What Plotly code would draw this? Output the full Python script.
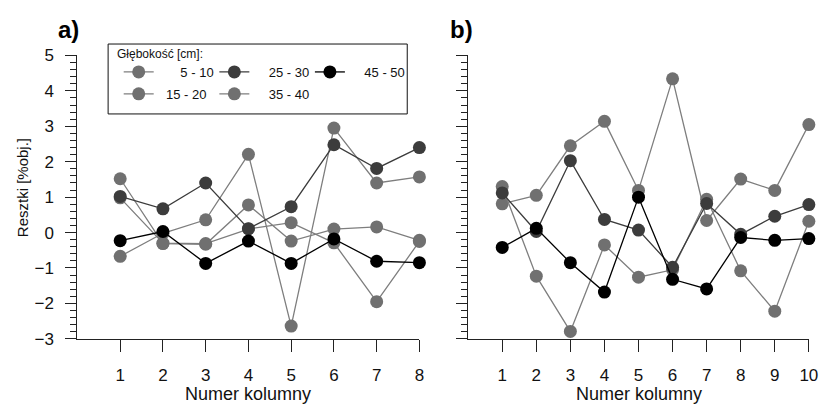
import plotly.graph_objects as go

# ---- data: residuals per soil column, by sampling depth ----
depths = ["5 - 10", "15 - 20", "25 - 30", "35 - 40", "45 - 50"]

cols_a = [1, 2, 3, 4, 5, 6, 7, 8]
a_5_10 = [1.52, -0.31, -0.33, 0.78, -0.24, 0.10, 0.16, -0.22]
a_15_20 = [-0.67, -0.02, 0.36, 2.21, -2.64, 2.95, 1.40, 1.57]
a_25_30 = [1.02, 0.67, 1.40, 0.11, 0.73, 2.48, 1.81, 2.40]
a_35_40 = [0.98, -0.30, -0.31, 0.10, 0.28, -0.29, -1.95, -0.25]
a_45_50 = [-0.23, 0.03, -0.87, -0.24, -0.87, -0.18, -0.81, -0.85]

cols_b = [1, 2, 3, 4, 5, 6, 7, 8, 9, 10]
b_5_10 = [0.81, 1.05, 2.45, 3.14, 1.19, 4.34, 0.34, 1.51, 1.19, 3.05]
b_15_20 = [1.30, -1.23, -2.79, -0.35, -1.26, -1.05, 0.94, -1.08, -2.22, 0.32]
b_25_30 = [1.12, 0.03, 2.03, 0.37, 0.07, -0.98, 0.82, -0.05, 0.46, 0.79]
b_45_50 = [-0.42, 0.12, -0.85, -1.68, 1.00, -1.32, -1.59, -0.14, -0.22, -0.17]

y_ticks = [-3, -2, -1, 0, 1, 2, 3, 4, 5]

FONT = "Liberation Sans, Arial, sans-serif"
W, H = 830, 414
GRAY = "#707070"
GRAY_LINE = "#7e7e7e"
DARK = "#3c3c3c"
BLACK = "#000000"

style = {
    "5 - 10": (GRAY, GRAY_LINE),
    "15 - 20": (GRAY, GRAY_LINE),
    "25 - 30": (DARK, DARK),
    "35 - 40": (GRAY, GRAY_LINE),
    "45 - 50": (BLACK, BLACK),
}

# legend slot for each depth (one small legend per entry, laid out as a grid)
legend_slot = {"5 - 10": "legend", "15 - 20": "legend2", "25 - 30": "legend3",
               "35 - 40": "legend4", "45 - 50": "legend5"}
legend_text = {"5 - 10": "\u00a0" * 6 + "5 - 10", "15 - 20": "\u00a0\u00a0" + "15 - 20",
               "25 - 30": "\u00a0" * 4 + "25 - 30", "35 - 40": "\u00a0" * 4 + "35 - 40",
               "45 - 50": "\u00a0" * 4 + "45 - 50"}

fig = go.Figure()

# gray series first, then dark, then black on top
draw_order = ["5 - 10", "15 - 20", "35 - 40", "25 - 30", "45 - 50"]
series_a = dict(zip(depths, [a_5_10, a_15_20, a_25_30, a_35_40, a_45_50]))
series_b = {"5 - 10": b_5_10, "15 - 20": b_15_20, "25 - 30": b_25_30, "45 - 50": b_45_50}

for d in draw_order:
    mc, lc = style[d]
    fig.add_trace(go.Scatter(
        x=cols_a, y=series_a[d], mode="lines+markers", name=legend_text[d],
        legend=legend_slot[d], cliponaxis=False,
        line=dict(color=lc, width=1.3),
        marker=dict(color=mc, size=13, line=dict(width=0)),
        xaxis="x", yaxis="y"))

for d in draw_order:
    if d not in series_b:
        continue
    mc, lc = style[d]
    fig.add_trace(go.Scatter(
        x=cols_b, y=series_b[d], mode="lines+markers", name=d, showlegend=False,
        cliponaxis=False,
        line=dict(color=lc, width=1.3),
        marker=dict(color=mc, size=13, line=dict(width=0)),
        xaxis="x2", yaxis="y2"))


def px_x(p):
    return p / W


def px_y(p):
    return 1 - p / H


y_dom = [px_y(345.7), px_y(48.7)]
axis_common = dict(showline=True, linecolor="#222", linewidth=1.3, showgrid=False,
                   zeroline=False, ticks="outside", tickcolor="#222", tickwidth=1.3,
                   tickfont=dict(family=FONT, size=17, color="#111"))

fig.update_layout(
    width=W, height=H, margin=dict(l=0, r=0, t=0, b=0),
    paper_bgcolor="white", plot_bgcolor="white",
    font=dict(family=FONT, color="#111"),
    xaxis=dict(domain=[px_x(78.3), px_x(424)], range=[0, 8], tickvals=cols_a,
               ticklen=12, ticklabelstandoff=9, anchor="y", **axis_common),
    yaxis=dict(domain=y_dom, range=[-3, 5], tickvals=y_ticks, ticklen=11,
               ticklabelstandoff=8, anchor="x",
               minor=dict(dtick=0.2, ticklen=6, ticks="outside", tickcolor="#222", tickwidth=1.3),
               **axis_common),
    xaxis2=dict(domain=[px_x(473.3), px_x(817.7)], range=[0, 10], tickvals=cols_b,
                ticklen=12, ticklabelstandoff=9, anchor="y2", **axis_common),
    yaxis2=dict(domain=y_dom, range=[-3, 5], tickvals=y_ticks, ticklen=11,
                showticklabels=False, anchor="x2",
                minor=dict(dtick=0.2, ticklen=6, ticks="outside", tickcolor="#222", tickwidth=1.3),
                **axis_common),
)

# legend grid: marker centres and row centres (pixels)
legend_pos = {"legend": (140, 66), "legend2": (140, 89), "legend3": (236.7, 66),
              "legend4": (236.7, 89), "legend5": (333.3, 66)}
for key, (mx, my) in legend_pos.items():
    fig.update_layout({key: dict(x=px_x(mx - 20), y=px_y(my), xanchor="left", yanchor="middle",
                                 bgcolor="rgba(0,0,0,0)", borderwidth=0,
                                 font=dict(family=FONT, size=13, color="#111"))})

# legend frame
fig.add_shape(type="rect", xref="paper", yref="paper",
              x0=px_x(109.3), x1=px_x(411.7), y0=px_y(110), y1=px_y(36.7),
              line=dict(color="#111", width=1), fillcolor="rgba(0,0,0,0)")

annotations = [
    dict(text="Głębokość [cm]:", x=px_x(116), y=px_y(46.7), xanchor="left", yanchor="middle",
         font=dict(family=FONT, size=12, color="#111")),
    dict(text="a)", x=px_x(69), y=px_y(22), xanchor="center", yanchor="middle",
         font=dict(family=FONT, size=24, color="#000", weight="bold")),
    dict(text="b)", x=px_x(467), y=px_y(22), xanchor="center", yanchor="middle",
         font=dict(family=FONT, size=24, color="#000", weight="bold")),
    dict(text="Resztki [%obj.]", x=px_x(23), y=px_y(187), xanchor="center", yanchor="middle",
         textangle=-90, font=dict(family=FONT, size=15, color="#111")),
    dict(text="Numer kolumny", x=px_x(251), y=px_y(403), xanchor="center", yanchor="middle",
         font=dict(family=FONT, size=18, color="#111")),
    dict(text="Numer kolumny", x=px_x(645.5), y=px_y(403), xanchor="center", yanchor="middle",
         font=dict(family=FONT, size=18, color="#111")),
]
for a in annotations:
    a.update(xref="paper", yref="paper", showarrow=False)
fig.update_layout(annotations=annotations)

fig.write_html("out.html")
